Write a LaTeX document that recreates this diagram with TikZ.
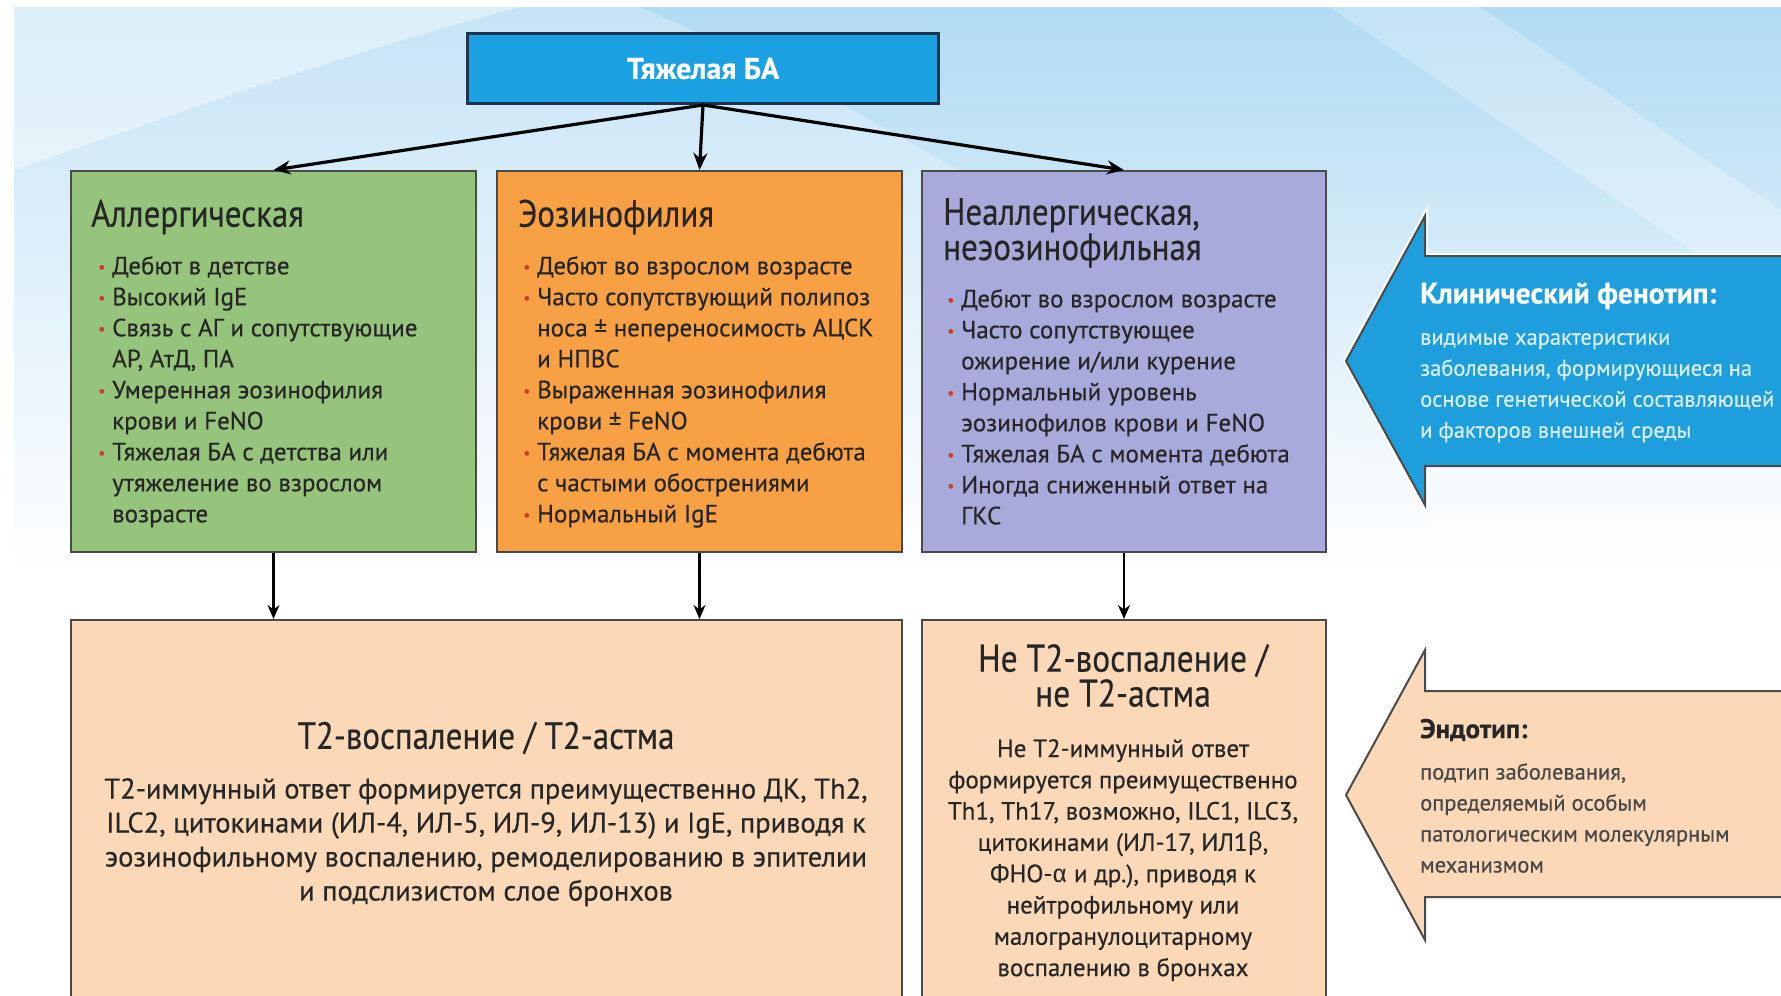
\documentclass[tikz,border=0pt]{standalone}
\usepackage{fontspec}
\setmainfont{PT Sans}[FakeBold=0.4]
\newfontfamily\hd{PT Sans}[FakeStretch=0.87,FakeBold=0.4]
\newfontfamily\grk{Fira Sans}
\usetikzlibrary{arrows.meta}
\definecolor{bgblue}{HTML}{C6E4F6}
\definecolor{skyblue}{HTML}{A9D8F3}
\definecolor{topblue}{HTML}{1BA1E2}
\definecolor{navy}{HTML}{1F3350}
\definecolor{gbox}{HTML}{96C47C}
\definecolor{obox}{HTML}{F8A044}
\definecolor{pbox}{HTML}{A8AADC}
\definecolor{peach}{HTML}{FBD8B8}
\definecolor{arrblue}{HTML}{1E9EDD}
\definecolor{bul}{HTML}{C8402A}
\definecolor{txt}{HTML}{262626}
\definecolor{edge}{HTML}{4A4A4A}
\definecolor{lighttxt}{HTML}{D9F0FB}
\newcommand\bu{\makebox[14pt][l]{\textcolor{bul}{\fontsize{16}{16}\selectfont\raisebox{2pt}{•}}}}
\newcommand\ct{\hspace*{14pt}}
\begin{document}
\begin{tikzpicture}[x=1pt,y=-1pt,
  box/.style={draw=edge, line width=2pt, inner sep=0pt, anchor=north west},
  head/.style={anchor=west, inner sep=0pt, text=txt, font=\hd\fontsize{38}{34}\selectfont},
  blist/.style={anchor=north west, inner sep=0pt, align=left, text=txt, font=\fontsize{25}{31}\selectfont},
  arr/.style={line width=3.2pt, -{Stealth[length=17pt,width=14pt]}},
  varr/.style={line width=2.5pt, -{Stealth[length=14pt,width=12pt]}},
  sidearr/.style={draw=edge, line width=2pt, line join=miter}]
\useasboundingbox (0,0) rectangle (1781,996);
% background
\fill[white] (0,0) rectangle (1781,996);
\shade[top color=bgblue, bottom color=white] (14,7) rectangle (1781,580);
\shade[top color=skyblue, bottom color=white, opacity=0.7] (640,7) -- (1781,7) -- (1781,540) -- (1450,540) .. controls (1200,300) and (900,120) .. (640,7) -- cycle;
\fill[white, opacity=0.4] (14,7) -- (520,7) .. controls (320,60) and (160,120) .. (14,170) -- cycle;
\fill[white, opacity=0.25] (1330,7) -- (1480,7) -- (1781,210) -- (1781,310) -- cycle;
% top box
\node[box, draw=navy, line width=3pt, fill=topblue, minimum width=471pt, minimum height=70pt, text=white,
  font=\bfseries\fontsize{30}{32}\selectfont, anchor=north west] (top) at (466,32) {Тяжелая БА};
% phenotype boxes
\node[box, fill=gbox, minimum width=405pt, minimum height=381pt] (green) at (70,170) {};
\node[box, fill=obox, minimum width=405pt, minimum height=381pt] (orange) at (496,170) {};
\node[box, fill=pbox, minimum width=404pt, minimum height=381pt] (purple) at (921,170) {};
% endotype boxes
\node[box, fill=peach, minimum width=831pt, minimum height=390pt] (t2) at (70,619) {};
\node[box, fill=peach, minimum width=404pt, minimum height=390pt] (nt2) at (921,619) {};
% connectors
\draw[arr] (top.south) -- (green.north);
\draw[arr] (top.south) -- (orange.north);
\draw[arr] (top.south) -- (purple.north);
\draw[varr] (green.south) -- (green.south |- t2.north);
\draw[varr] (orange.south) -- (orange.south |- t2.north);
\draw[varr] (purple.south) -- (purple.south |- nt2.north);
% green text
\node[head] (gh) at (91,217) {Аллергическая};
\node[blist] (gl) at (98,256) {\bu Дебют в детстве\\
\bu Высокий IgE\\
\bu Связь с АГ и сопутствующие\\
\ct АР, АтД, ПА\\
\bu Умеренная эозинофилия\\
\ct крови и FeNO\\
\bu Тяжелая БА с детства или\\
\ct утяжеление во взрослом\\
\ct возрасте};
% orange text
\node[head] (oh) at (518,217) {Эозинофилия};
\node[blist] (ol) at (523,256) {\bu Дебют во взрослом возрасте\\
\bu Часто сопутствующий полипоз\\
\ct носа ± непереносимость АЦСК\\
\ct и НПВС\\
\bu Выраженная эозинофилия\\
\ct крови ± FeNO\\
\bu Тяжелая БА с момента дебюта\\
\ct с частыми обострениями\\
\bu Нормальный IgE};
% purple text
\node[head, anchor=north west, align=left] (ph) at (943,198) {Неаллергическая,\\неэозинофильная};
\node[blist] (pl) at (947,289) {\bu Дебют во взрослом возрасте\\
\bu Часто сопутствующее\\
\ct ожирение и/или курение\\
\bu Нормальный уровень\\
\ct эозинофилов крови и FeNO\\
\bu Тяжелая БА с момента дебюта\\
\bu Иногда сниженный ответ на\\
\ct ГКС};
% T2 text
\node[anchor=center, inner sep=0pt, text=txt, font=\hd\fontsize{38}{34}\selectfont] (t2h) at (486,738) {Т2-воспаление / Т2-астма};
\node[anchor=north, inner sep=0pt, align=center, text=txt, font=\fontsize{28.5}{34}\selectfont] (t2b) at (486,778)
 {Т2-иммунный ответ формируется преимущественно ДК, Th2,\\
 ILC2, цитокинами (ИЛ-4, ИЛ-5, ИЛ-9, ИЛ-13) и IgE, приводя к\\
 эозинофильному воспалению, ремоделированию в эпителии\\
 и подслизистом слое бронхов};
% non-T2 text
\node[anchor=north, inner sep=0pt, align=center, text=txt, font=\hd\fontsize{38.5}{35}\selectfont] (nt2h) at (1123,644)
 {Не Т2-воспаление /\\не Т2-астма};
\node[anchor=north, inner sep=0pt, align=center, text=txt, font=\fontsize{25}{31.3}\selectfont] (nt2b) at (1123,739)
 {Не Т2-иммунный ответ\\
 формируется преимущественно\\
 Th1, Th17, возможно, ILC1, ILC3,\\
 цитокинами (ИЛ-17, ИЛ1{\grk β},\\
 ФНО-{\grk α} и др.), приводя к\\
 нейтрофильному или\\
 малогранулоцитарному\\
 воспалению в бронхах};
% side arrows
\draw[white, line width=6pt, line join=miter] (1346,361) -- (1425,216) -- (1425,256) -- (1790,256) -- (1790,466) -- (1425,466) -- (1425,505) -- cycle;
\path[sidearr, fill=arrblue] (1346,361) -- (1425,216) -- (1425,256) -- (1790,256) -- (1790,466) -- (1425,466) -- (1425,505) -- cycle;
\path[sidearr, fill=peach] (1346,795) -- (1425,650) -- (1425,691) -- (1790,691) -- (1790,897) -- (1425,897) -- (1425,940) -- cycle;
\node[anchor=west, inner sep=0pt, text=white, font=\bfseries\fontsize{29.5}{30}\selectfont] (pht) at (1420,296) {Клинический фенотип:};
\node[anchor=north west, inner sep=0pt, align=left, text=lighttxt, font=\fontsize{22.5}{31}\selectfont] (phb) at (1420,333)
 {видимые характеристики\\
 заболевания, формирующиеся на\\
 основе генетической составляющей\\
 и факторов внешней среды};
\node[anchor=west, inner sep=0pt, text=txt, font=\bfseries\fontsize{27}{30}\selectfont] (ent) at (1420,730) {Эндотип:};
\node[anchor=north west, inner sep=0pt, align=left, text=txt!85, font=\fontsize{22.5}{31}\selectfont] (enb) at (1420,763)
 {подтип заболевания,\\
 определяемый особым\\
 патологическим молекулярным\\
 механизмом};
\end{tikzpicture}
\end{document}
